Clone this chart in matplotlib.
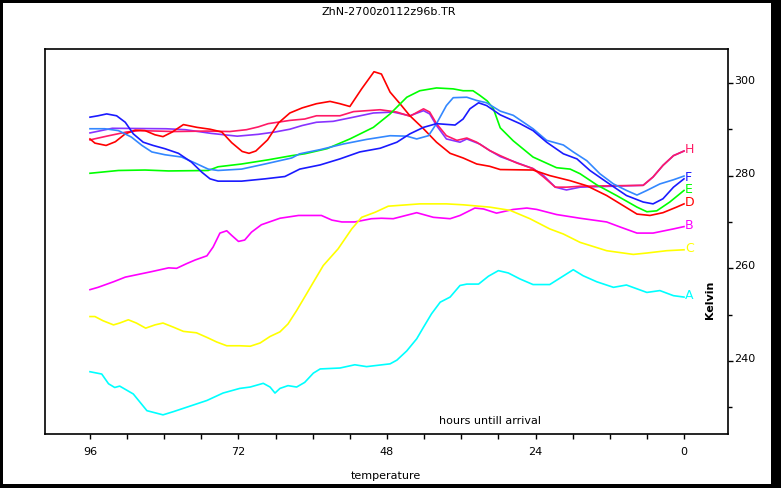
import matplotlib
matplotlib.use('Agg')
import matplotlib.pyplot as plt
import numpy as np
from matplotlib.patches import Rectangle

# hours until arrival and temperature (Kelvin) for each trace
a_hours = [96, 94.1, 93.0, 92.0, 91.2, 89.0, 87.9, 86.8, 84.2, 82.5, 79.8, 77.1, 74.5, 71.8, 70.1,
           68.0, 66.9, 66.1, 65.3, 64.0, 62.6, 61.3, 59.9, 58.8, 55.6, 53.2, 51.3, 47.5, 46.4, 44.8,
           43.2, 42.1, 40.8, 39.4, 37.8, 36.2, 35.1, 33.2, 31.6, 30.0, 28.4, 26.5, 24.4, 21.7, 19.8,
           17.9, 16.3, 14.1, 11.4, 9.3, 6.0, 3.9, 1.7, 0]
a_temp = [237.7, 237.2, 235.1, 234.3, 234.6, 232.9, 231.1, 229.3, 228.4, 229.1, 230.3, 231.5, 233.1, 234.1, 234.4,
          235.2, 234.4, 233.1, 234.1, 234.7, 234.4, 235.4, 237.4, 238.3, 238.5, 239.2, 238.8, 239.4, 240.2, 242.2,
          244.8, 247.3, 250.2, 252.7, 253.8, 256.3, 256.6, 256.6, 258.3, 259.5, 259.0, 257.7, 256.5, 256.5, 258.1,
          259.7, 258.4, 257.1, 255.9, 256.4, 254.8, 255.2, 254.1, 253.8]

b_hours = [96, 94.7, 92.2, 90.3, 86.0, 83.3, 82.0, 80.4, 79.0, 77.1, 76.1, 75.0, 73.9, 73.1, 72.0,
           71.0, 69.9, 68.3, 65.3, 62.3, 58.6, 56.9, 55.3, 53.2, 50.5, 48.9, 47.0, 43.2, 40.5, 37.8,
           36.2, 33.8, 32.4, 30.3, 27.6, 25.4, 23.8, 20.6, 16.8, 12.5, 10.3, 7.6, 5.0, 1.7, 0]
b_temp = [255.4, 255.9, 257.1, 258.1, 259.3, 260.1, 260.0, 261.0, 261.8, 262.7, 264.6, 267.6, 268.1, 267.1, 265.8,
          266.1, 267.8, 269.4, 270.8, 271.4, 271.4, 270.4, 270.0, 270.0, 270.7, 270.8, 270.7, 272.0, 271.0, 270.7,
          271.4, 273.0, 272.8, 271.9, 272.7, 273.0, 272.7, 271.6, 270.8, 270.0, 268.9, 267.6, 267.6, 268.5, 269.0]

c_hours = [96, 95.2, 93.9, 92.2, 91.2, 89.8, 88.5, 87.0, 85.5, 84.2, 82.5, 80.9, 78.8, 77.1, 75.5,
           73.9, 71.8, 70.1, 68.5, 66.9, 65.3, 64.0, 62.6, 61.0, 59.9, 58.3, 55.9, 53.7, 52.1, 49.9,
           47.8, 42.7, 38.4, 35.7, 31.4, 28.1, 24.9, 21.7, 19.5, 16.8, 12.5, 8.2, 6.0, 2.8, 0]
c_temp = [249.6, 249.6, 248.7, 247.8, 248.2, 248.9, 248.2, 247.1, 247.8, 248.2, 247.3, 246.4, 246.1, 245.1, 244.1,
          243.3, 243.3, 243.2, 243.9, 245.3, 246.3, 248.0, 250.9, 254.5, 257.0, 260.6, 264.2, 268.5, 271.0, 272.1,
          273.4, 273.9, 273.9, 273.7, 273.2, 272.5, 270.7, 268.5, 267.4, 265.6, 263.8, 263.0, 263.3, 263.8, 264.0]

d_hours = [96, 95.2, 93.4, 91.9, 90.3, 88.7, 87.1, 85.5, 84.2, 82.7, 80.9, 78.7, 76.6, 74.7, 73.1,
           71.4, 70.3, 69.2, 67.3, 65.5, 63.7, 61.7, 59.4, 57.2, 55.6, 54.0, 52.1, 50.1, 48.9, 47.5,
           45.9, 44.3, 42.1, 40.0, 37.8, 35.7, 33.5, 31.4, 29.7, 24.4, 21.7, 18.4, 15.7, 12.5, 9.8,
           7.6, 5.5, 3.4, 1.2, 0]
d_temp = [287.9, 287.0, 286.5, 287.3, 289.0, 289.8, 289.7, 288.8, 288.4, 289.4, 291.0, 290.4, 290.0, 289.4, 287.1,
          285.2, 284.8, 285.3, 287.7, 291.4, 293.5, 294.6, 295.5, 296.0, 295.5, 294.9, 298.7, 302.4, 301.9, 298.0,
          295.5, 292.9, 290.1, 287.2, 284.8, 283.8, 282.5, 282.0, 281.3, 281.2, 280.0, 278.9, 277.8, 275.7, 273.5,
          271.7, 271.4, 272.0, 273.2, 273.9]

e_hours = [96, 91.4, 87.1, 83.3, 76.9, 75.3, 71.5, 67.2, 63.4, 61.3, 57.7, 54.0, 50.2, 47.5, 44.8,
           42.7, 40.0, 37.3, 35.7, 34.1, 33.0, 31.8, 30.8, 29.7, 27.6, 24.4, 20.6, 18.4, 16.8, 14.1,
           10.9, 7.6, 6.0, 4.4, 2.3, 0]
e_temp = [280.5, 281.1, 281.2, 281.0, 281.1, 281.9, 282.5, 283.4, 284.3, 284.7, 285.8, 287.9, 290.4, 293.3, 296.9,
          298.3, 298.9, 298.7, 298.3, 298.3, 297.3, 296.1, 294.4, 290.3, 287.5, 284.0, 281.7, 281.4, 280.4, 278.0,
          275.7, 273.2, 272.2, 272.4, 274.3, 276.8]

f_hours = [96, 94.7, 93.3, 91.7, 90.3, 89.0, 87.4, 85.8, 83.9, 81.7, 79.6, 77.9, 76.6, 75.3, 71.5,
           67.7, 64.5, 62.1, 58.8, 55.6, 52.4, 49.1, 46.4, 44.3, 42.1, 40.0, 37.0, 35.7, 34.6, 33.2,
           31.9, 29.7, 26.5, 24.4, 22.2, 19.5, 17.3, 15.2, 12.5, 9.3, 6.6, 5.0, 3.4, 1.7, 0]
f_temp = [292.6, 292.9, 293.3, 292.9, 291.5, 289.0, 287.2, 286.5, 285.8, 284.8, 282.9, 280.7, 279.3, 278.8, 278.8,
          279.3, 279.8, 281.4, 282.3, 283.6, 285.1, 285.9, 287.2, 289.0, 290.4, 291.2, 290.9, 292.2, 294.4, 295.7,
          295.1, 293.1, 291.2, 289.7, 287.2, 284.7, 283.6, 281.1, 278.6, 275.7, 274.3, 273.9, 275.0, 277.5, 279.3]

g_hours = [96, 93.6, 91.4, 89.3, 87.6, 86.0, 83.9, 81.2, 79.0, 76.9, 75.3, 71.5, 67.7, 63.4, 62.1,
           58.8, 55.1, 51.3, 47.5, 44.8, 43.2, 41.3, 40.0, 38.4, 37.3, 35.1, 33.5, 31.9, 29.7, 27.6,
           24.4, 22.2, 19.5, 17.9, 15.7, 13.6, 11.4, 9.3, 7.6, 6.0, 3.9, 1.7, 0]
g_temp = [290.1, 290.1, 289.7, 288.3, 286.5, 285.1, 284.5, 284.0, 282.7, 281.4, 281.1, 281.4, 282.5, 283.8, 284.7,
          285.6, 286.8, 287.8, 288.6, 288.5, 287.9, 288.6, 291.2, 295.1, 296.8, 296.9, 296.2, 295.7, 293.9, 293.0,
          290.1, 287.6, 286.6, 285.1, 283.2, 280.4, 278.2, 276.8, 275.8, 276.8, 278.2, 279.1, 279.9]

h_hours = [96, 93.3, 90.1, 87.9, 82.5, 77.1, 73.4, 70.7, 68.8, 67.2, 63.7, 61.3, 59.4, 55.6, 53.4,
           49.1, 46.4, 44.3, 42.1, 41.1, 40.0, 38.4, 36.7, 35.1, 33.5, 31.4, 29.7, 27.0, 24.4, 22.7,
           20.8, 19.0, 16.8, 6.6, 5.0, 3.4, 1.7, 0]
h_temp = [287.7, 288.5, 289.4, 289.7, 289.5, 289.6, 289.5, 289.9, 290.5, 291.2, 291.9, 292.2, 292.9, 292.9, 293.8,
          294.2, 293.7, 292.8, 294.4, 293.7, 291.2, 288.6, 287.6, 288.1, 287.2, 285.4, 284.3, 282.7, 281.5, 279.7,
          277.5, 277.5, 277.7, 277.9, 279.7, 282.2, 284.3, 285.3]

i_hours = [96, 92.4, 83.7, 80.6, 76.4, 72.2, 68.8, 66.1, 63.7, 61.7, 59.4, 56.7, 53.4, 50.2, 47.0,
           44.3, 42.1, 41.1, 40.0, 38.4, 36.2, 35.1, 33.0, 31.4, 29.7, 24.4, 22.7, 20.8, 19.0, 16.8,
           6.6, 5.0, 3.4, 1.7, 0]
i_temp = [289.2, 290.2, 290.1, 289.9, 289.1, 288.5, 288.9, 289.4, 290.0, 290.8, 291.5, 291.7, 292.6, 293.5, 293.7,
          292.9, 294.0, 293.3, 290.8, 287.9, 287.2, 287.9, 286.8, 285.4, 284.1, 281.5, 280.0, 277.5, 276.9, 277.5,
          277.9, 279.7, 282.2, 284.3, 285.3]

# name shown at the line end (None: shares a label with a coincident trace), hours, temps, colour
series = [
    ('A', a_hours, a_temp, '#00ffff'),
    ('B', b_hours, b_temp, '#ff00ff'),
    ('C', c_hours, c_temp, '#ffff00'),
    (None, i_hours, i_temp, '#8833ff'),
    ('H', h_hours, h_temp, '#ff1a66'),
    ('D', d_hours, d_temp, '#ff0000'),
    ('E', e_hours, e_temp, '#00ff00'),
    (None, g_hours, g_temp, '#3388ff'),
    ('F', f_hours, f_temp, '#1a1aff'),
]


def plot_traces():
    fig = plt.figure(figsize=(7.81, 4.89), dpi=100)
    fig.patch.set_facecolor('black')
    fig.add_artist(Rectangle((3 / 781, 4 / 489), 768 / 781, 481 / 489,
                             transform=fig.transFigure, facecolor='white',
                             edgecolor='none', zorder=-10))

    ax = fig.add_axes([45 / 781, 1 - 435 / 489, 683 / 781, 385 / 489])
    for name, hrs, temps, col in series:
        ax.plot(hrs, temps, color=col, lw=1.2)
    # letters at the end of each trace
    for name, hrs, temps, col in series:
        if name is None:
            continue
        ax.text(-0.2, temps[-1] + 0.5, name, color=col, fontsize=9,
                ha='left', va='center')

    ax.set_xlim(103.27, -7.11)
    ax.set_ylim(224.27, 307.3)

    ax.set_xticks([96, 72, 48, 24, 0])
    ax.set_xticks(np.arange(6, 96, 6), minor=True)
    ax.set_yticks([240, 260, 280, 300])
    ax.set_yticks([230, 250, 270, 290], minor=True)
    ax.yaxis.tick_right()
    ax.tick_params(axis='x', which='both', direction='out', length=3.5,
                   width=1, pad=5, labelsize=8)
    ax.tick_params(axis='y', which='major', direction='out', length=3.8,
                   width=1, pad=0.5, labelsize=8)
    ax.tick_params(axis='y', which='minor', direction='out', length=3,
                   width=1)
    for t in ax.yaxis.get_major_ticks():
        t.label2.set_verticalalignment('baseline')

    for sp in ax.spines.values():
        sp.set_linewidth(1.2)

    ax.text(0.974, 0.35, 'Kelvin', transform=ax.transAxes, rotation=90,
            fontsize=8, fontweight='bold', ha='center', va='center')
    ax.text(0.6515, 0.037, 'hours untill arrival', transform=ax.transAxes,
            fontsize=8, ha='center', va='center')
    fig.text(0.494, 1 - 476 / 489, 'temperature', fontsize=8,
             ha='center', va='center')
    fig.text(0.498, 1 - 12 / 489, 'ZhN-2700z0112z96b.TR', fontsize=8,
             ha='center', va='center')

    fig.savefig('out.png', dpi=100)


if __name__ == "__main__":
    plot_traces()
